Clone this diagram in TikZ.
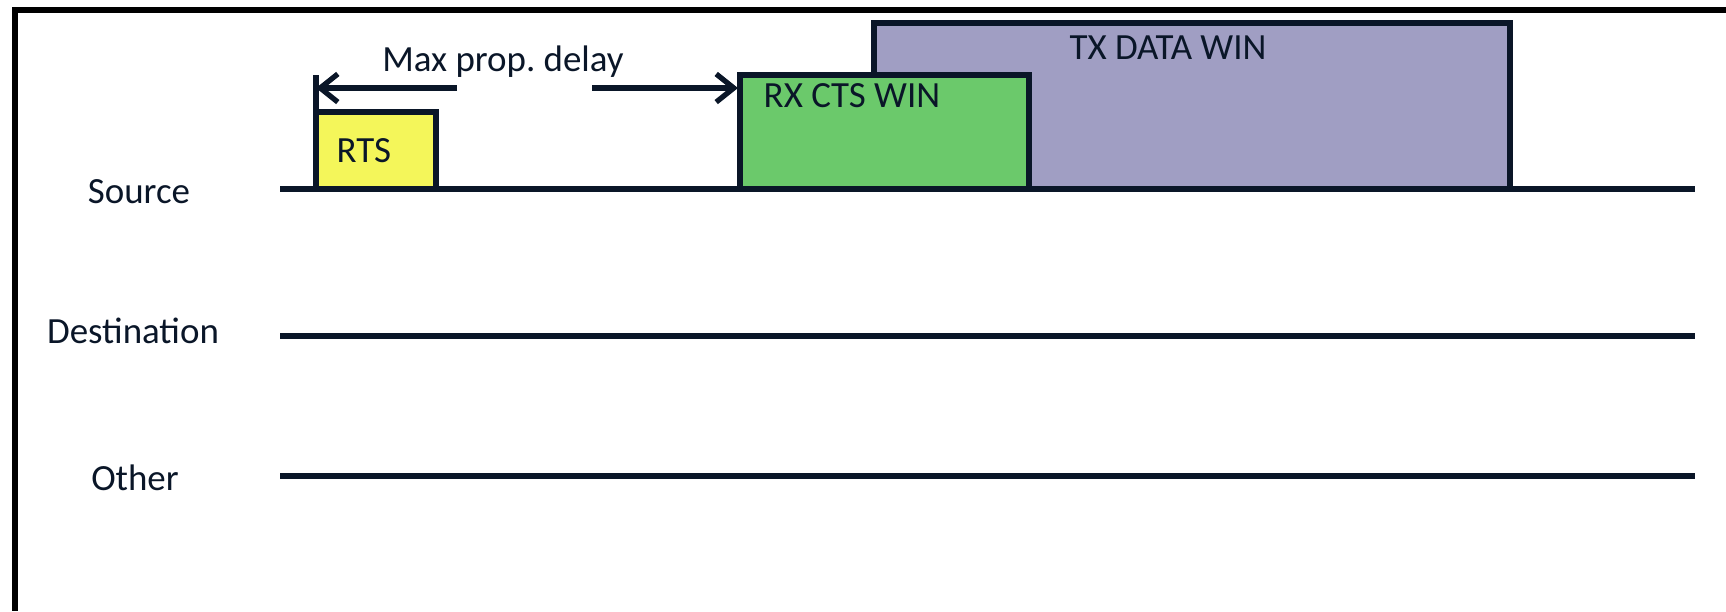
\documentclass[tikz,border=0pt]{standalone}
\usepackage{fontspec}
\setmainfont{Carlito}
\usetikzlibrary{positioning}
\usetikzlibrary{arrows.meta}

\definecolor{ink}{HTML}{0A1628}
\definecolor{rtsyellow}{HTML}{F4F65A}
\definecolor{ctsgreen}{HTML}{6BC96B}
\definecolor{datapurple}{HTML}{A09EC3}

\tikzset{
	timeline/.style={ink,line width=1.6pt},
	win/.style={draw=ink,line width=1.7pt},
	lbl/.style={inner sep=0pt,font=\fontsize{10.5}{12}\selectfont,text=ink},
}

\begin{document}
\begin{tikzpicture}[x=0.01cm,y=-0.01cm]
	\useasboundingbox (0,0) rectangle (1726,611);
	% frame, only the top and left edges show
	\draw[black,line width=1.5pt] (1726,10)--(15,10)--(15,611);
	% windows on the source line
	\draw[win,fill=datapurple] (874,189) rectangle (1510,23);
	\draw[win,fill=ctsgreen] (740,189) rectangle (1029,75);
	\draw[win,fill=rtsyellow] (316,189) rectangle (436,112);
	\draw[ink,line width=1.7pt] (316,112)--(316,75);
	% time lines
	\draw[timeline] (280,189)--(1695,189);
	\draw[timeline] (280,336)--(1695,336);
	\draw[timeline] (280,476)--(1695,476);
	\node[lbl] (src) at (139,192) {Source};
	\node[lbl] (dst) at (133,331) {Destination};
	\node[lbl] (oth) at (135,478) {Other};
	\node[lbl,anchor=west] (rts) at (336,151) {RTS};
	\node[lbl,anchor=west] (cts) at (763,96) {RX CTS WIN};
	\node[lbl] (data) at (1168,48) {TX DATA WIN};
	% propagation delay
	\node[lbl] (delay) at (503,62) {Max prop.\ delay};
	\coordinate (dl) at (457,88);
	\coordinate (dr) at (592,88);
	\coordinate (tick) at (316,88);
	\coordinate (win) at (738,88);
	\draw[ink,line width=1.5pt,-{Straight Barb[length=5pt,width=8pt]}] (dl)--(tick);
	\draw[ink,line width=1.5pt,-{Straight Barb[length=5pt,width=8pt]}] (dr)--(win);
\end{tikzpicture}
\end{document}
